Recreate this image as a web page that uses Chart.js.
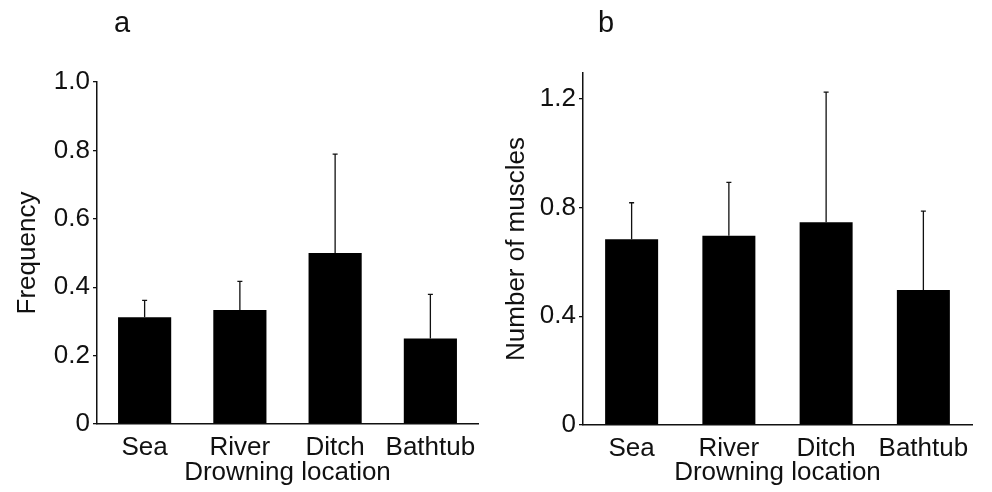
<!DOCTYPE html>
<html>
<head>
<meta charset="utf-8">
<script src="https://cdn.jsdelivr.net/npm/chart.js@4.4.1/dist/chart.umd.min.js"></script>
<style>
    html, body { margin: 0; padding: 0; background: #fff; }
    #wrap { position: relative; width: 992px; height: 492px; }
    .panel { position: absolute; top: 0; height: 492px; }
    #panelA { left: 0; width: 490px; }
    #panelB { left: 490px; width: 502px; }
</style>
</head>
<body>
<div id="wrap">
    <div class="panel" id="panelA"><canvas id="chartA"></canvas></div>
    <div class="panel" id="panelB"><canvas id="chartB"></canvas></div>
</div>
<script>
const locations = ['Sea', 'River', 'Ditch', 'Bathtub'];

// panel a
const frequencyMeans = [0.3125, 0.333, 0.5, 0.25];
const frequencyErrors = [0.049, 0.084, 0.289, 0.129];
const frequencyTicks = [0, 0.2, 0.4, 0.6, 0.8, 1.0];
const frequencyTickLabels = ['0', '0.2', '0.4', '0.6', '0.8', '1.0'];

// panel b
const muscleMeans = [0.683, 0.696, 0.745, 0.496];
const muscleErrors = [0.134, 0.196, 0.479, 0.29];
const muscleTicks = [0, 0.4, 0.8, 1.2];
const muscleTickLabels = ['0', '0.4', '0.8', '1.2'];

const FONT = '"Liberation Sans", Arial, sans-serif';
const INK = '#111';

// draws upper error whiskers on top of each bar
const errorBarPlugin = {
    id: 'errorBars',
    afterDatasetsDraw(chart, args, opts) {
        const meta = chart.getDatasetMeta(0);
        const yScale = chart.scales.y;
        const values = chart.data.datasets[0].data;
        const ctx = chart.ctx;
        ctx.save();
        ctx.strokeStyle = INK;
        ctx.lineWidth = 1.3;
        meta.data.forEach((bar, i) => {
            const top = yScale.getPixelForValue(values[i] + opts.errors[i]);
            ctx.beginPath();
            ctx.moveTo(bar.x, bar.y);
            ctx.lineTo(bar.x, top);
            ctx.moveTo(bar.x - 2.5, top);
            ctx.lineTo(bar.x + 2.5, top);
            ctx.stroke();
        });
        ctx.restore();
    },
};

// panel letter (a / b)
const panelLetterPlugin = {
    id: 'panelLetter',
    afterDraw(chart, args, opts) {
        const ctx = chart.ctx;
        ctx.save();
        ctx.fillStyle = INK;
        ctx.font = '29px ' + FONT;
        ctx.textBaseline = 'alphabetic';
        ctx.fillText(opts.text, opts.x, opts.y);
        ctx.restore();
    },
};

function makeChart(id, cfg) {
    const canvas = document.getElementById(id);
    return new Chart(canvas.getContext('2d'), {
        type: 'bar',
        data: {
            labels: locations,
            datasets: [
                {
                    data: cfg.values,
                    backgroundColor: '#000',
                    borderWidth: 0,
                    categoryPercentage: 1,
                    barPercentage: cfg.barPct,
                },
            ],
        },
        plugins: [errorBarPlugin, panelLetterPlugin],
        options: {
            responsive: true,
            maintainAspectRatio: false,
            animation: false,
            layout: { padding: cfg.padding },
            plugins: {
                legend: { display: false },
                tooltip: { enabled: false },
                errorBars: { errors: cfg.errors },
                panelLetter: cfg.letter,
            },
            scales: {
                x: {
                    grid: { display: false },
                    border: { display: true, color: INK, width: 1.5 },
                    ticks: {
                        color: INK,
                        font: { family: FONT, size: 26 },
                        padding: 0,
                        maxRotation: 0,
                        autoSkip: false,
                    },
                    title: {
                        display: true,
                        text: 'Drowning location',
                        color: INK,
                        font: { family: FONT, size: 26 },
                        padding: { top: 0, bottom: 0 },
                    },
                    afterFit(scale) {
                        scale.height = cfg.xHeight;
                    },
                },
                y: {
                    min: 0,
                    max: cfg.max,
                    grid: {
                        drawOnChartArea: false,
                        drawTicks: true,
                        tickLength: 4,
                        color: INK,
                        lineWidth: 1.3,
                    },
                    border: { display: true, color: INK, width: 1.5 },
                    ticks: {
                        color: INK,
                        font: { family: FONT, size: 26 },
                        padding: 3,
                        callback: function (value) {
                            const idx = cfg.ticks.indexOf(value);
                            return idx >= 0 ? cfg.tickLabels[idx] : '';
                        },
                    },
                    afterBuildTicks(scale) {
                        scale.ticks = cfg.ticks.map((v) => ({ value: v }));
                    },
                    title: {
                        display: true,
                        text: cfg.yTitle,
                        color: INK,
                        font: { family: FONT, size: 26 },
                        padding: { top: cfg.yTitleGap, bottom: 0 },
                    },
                    afterFit(scale) {
                        scale.width = cfg.yWidth;
                    },
                },
            },
        },
    });
}

makeChart('chartA', {
    values: frequencyMeans,
    errors: frequencyErrors,
    ticks: frequencyTicks,
    tickLabels: frequencyTickLabels,
    max: 1.0,
    barPct: 0.558,
    yTitle: 'Frequency',
    yTitleGap: 12,
    yWidth: 97,
    xHeight: 64,
    padding: { left: 0, right: 12, top: 82, bottom: 4 },
    letter: { text: 'a', x: 114, y: 32 },
});

makeChart('chartB', {
    values: muscleMeans,
    errors: muscleErrors,
    ticks: muscleTicks,
    tickLabels: muscleTickLabels,
    max: 1.294,
    barPct: 0.545,
    yTitle: 'Number of muscles',
    yTitleGap: 11,
    yWidth: 93,
    xHeight: 63,
    padding: { left: 0, right: 20, top: 73, bottom: 4 },
    letter: { text: 'b', x: 108, y: 32 },
});
</script>
</body>
</html>
